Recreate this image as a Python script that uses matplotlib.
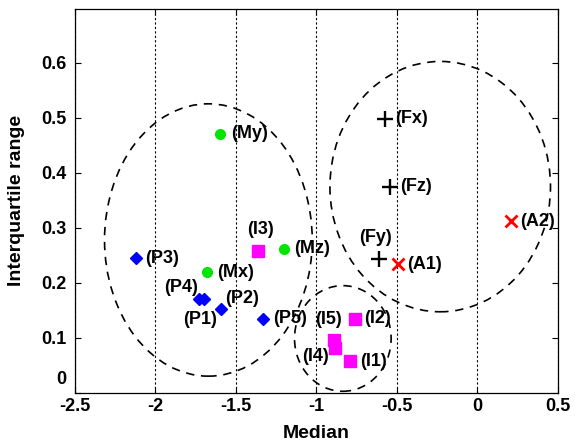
import matplotlib
matplotlib.use("Agg")
import matplotlib.pyplot as plt
from matplotlib.patches import Ellipse
from matplotlib.transforms import ScaledTranslation

plt.rcParams["font.family"] = ["Liberation Sans", "DejaVu Sans"]
plt.rcParams["font.weight"] = "bold"
plt.rcParams["axes.labelweight"] = "bold"

# median / interquartile range per feature group
p_names = ["(P1)", "(P2)", "(P3)", "(P4)", "(P5)"]
p_median = [-1.70, -1.59, -2.12, -1.73, -1.33]
p_iqr = [0.171, 0.153, 0.245, 0.171, 0.135]

m_names = ["(Mx)", "(My)", "(Mz)"]
m_median = [-1.68, -1.60, -1.20]
m_iqr = [0.219, 0.471, 0.262]

i_names = ["(I1)", "(I2)", "(I3)", "(I4)", "(I5)"]
i_median = [-0.79, -0.76, -1.36, -0.885, -0.89]
i_iqr = [0.058, 0.135, 0.258, 0.082, 0.096]

f_names = ["(Fx)", "(Fy)", "(Fz)"]
f_median = [-0.57, -0.61, -0.54]
f_iqr = [0.498, 0.244, 0.375]

a_names = ["(A1)", "(A2)"]
a_median = [-0.49, 0.21]
a_iqr = [0.234, 0.312]

# cluster outlines: centre, width, height
clusters = [
    ((-1.67, 0.278), 1.29, 0.495),
    ((-0.23, 0.375), 1.37, 0.455),
    ((-0.835, 0.099), 0.60, 0.192),
]

# label placement (ha, va, dx, dy in pixels)
label_pos = {
    "(P1)": ("right", "center", 13, -21),
    "(P2)": ("left", "center", 4, 10),
    "(P3)": ("left", "center", 9, 0),
    "(P4)": ("right", "center", -1, 11),
    "(P5)": ("left", "center", 10, 0),
    "(Mx)": ("left", "center", 10, 0),
    "(My)": ("left", "center", 11, 0),
    "(Mz)": ("left", "center", 10, 0),
    "(I1)": ("left", "center", 10, 0),
    "(I2)": ("left", "center", 9, 0),
    "(I3)": ("center", "center", 2, 21),
    "(I4)": ("right", "center", -6, -9),
    "(I5)": ("right", "center", 8, 21),
    "(Fx)": ("left", "center", 10, 0),
    "(Fy)": ("center", "center", -4, 21),
    "(Fz)": ("left", "center", 10, 0),
    "(A1)": ("left", "center", 9, 0),
    "(A2)": ("left", "center", 9, 0),
}

fig = plt.figure(figsize=(5.75, 4.45), dpi=100)
ax = fig.add_axes([0.130, 0.117, 0.840, 0.863])

groups = [
    (p_names, p_median, p_iqr, dict(marker="D", color="blue", markersize=6.5)),
    (m_names, m_median, m_iqr, dict(marker="o", color="#00e600", markersize=7)),
    (i_names, i_median, i_iqr, dict(marker="s", color="magenta", markersize=8)),
    (f_names, f_median, f_iqr, dict(marker="+", color="black", markersize=11, markeredgewidth=1.7)),
    (a_names, a_median, a_iqr, dict(marker="x", color="red", markersize=8.5, markeredgewidth=2)),
]

for names, xs, ys, style in groups:
    ax.plot(xs, ys, linestyle="none", zorder=3, **style)
    for name, x, y in zip(names, xs, ys):
        ha, va, dx, dy = label_pos[name]
        ax.annotate(name, (x, y), xytext=(dx, dy), textcoords="offset pixels",
                    ha=ha, va=va, fontsize=13, zorder=4)

for centre, w, h in clusters:
    ax.add_patch(Ellipse(centre, w, h, fill=False, edgecolor="black",
                         linestyle=(0, (5, 4)), linewidth=1.2, zorder=2))

ax.set_xlim(-2.5, 0.5)
ax.set_ylim(0, 0.698)
ax.set_xticks([-2.5, -2, -1.5, -1, -0.5, 0, 0.5])
ax.set_xticklabels(["-2.5", "-2", "-1.5", "-1", "-0.5", "0", "0.5"])
ax.set_yticks([0, 0.1, 0.2, 0.3, 0.4, 0.5, 0.6])
ax.set_yticklabels(["0", "0.1", "0.2", "0.3", "0.4", "0.5", "0.6"])
ax.tick_params(direction="in", top=True, right=True, length=4, labelsize=13, pad=4)
ax.tick_params(axis="y", pad=6)
ax.grid(True, axis="x", linestyle=(0, (2, 2)), color="black", linewidth=0.8)
ax.set_axisbelow(True)
for sp in ax.spines.values():
    sp.set_linewidth(0.9)

# lift the zero label above the axis line
zero_label = ax.yaxis.get_major_ticks()[0].label1
zero_label.set_transform(zero_label.get_transform() + ScaledTranslation(0, 0.15, fig.dpi_scale_trans))

ax.set_xlabel("Median", fontsize=14)
ax.set_ylabel("Interquartile range", fontsize=14)
ax.xaxis.set_label_coords(0.5, -0.083)
ax.yaxis.set_label_coords(-0.102, 0.5)

fig.savefig("out.png", dpi=100)
